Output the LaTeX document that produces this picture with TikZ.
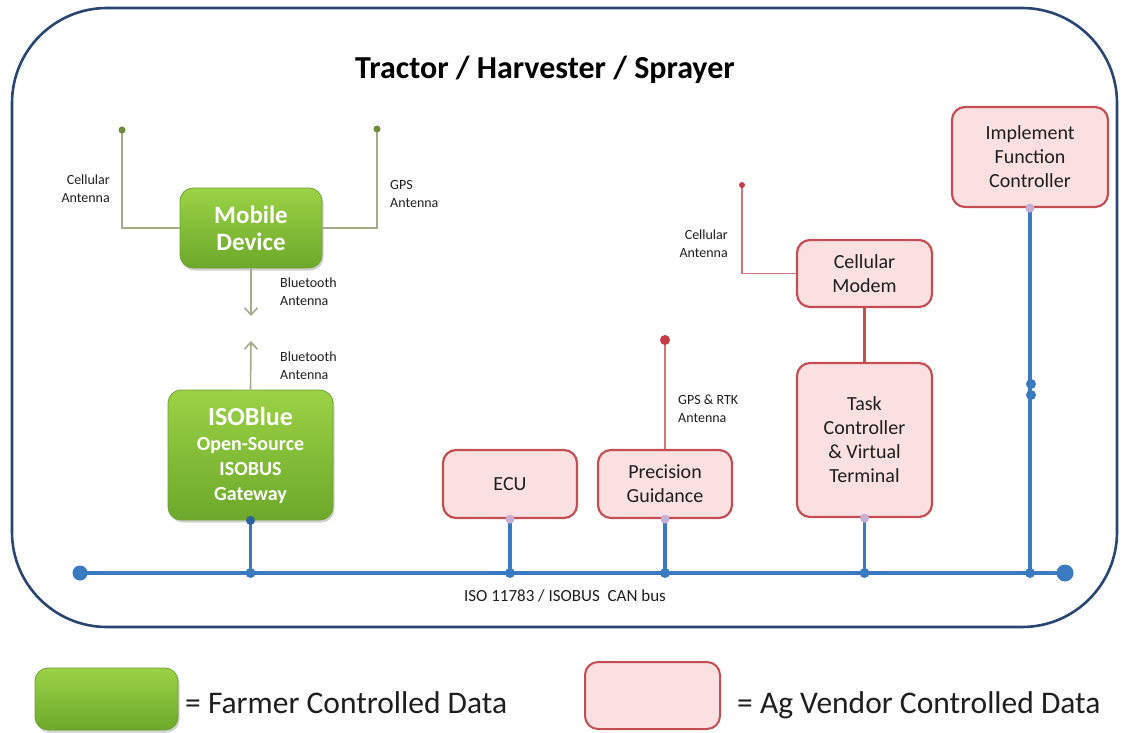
\documentclass[tikz,border=0pt]{standalone}
\usepackage{fontspec}
\setmainfont{Carlito}
\usetikzlibrary{arrows.meta,shadows}
\newcommand\fsz[2]{\fontsize{#1}{#2}\selectfont}
\definecolor{frame}{RGB}{40,70,112}
\definecolor{bus}{RGB}{58,122,192}
\definecolor{gtop}{RGB}{155,210,70}
\definecolor{gbot}{RGB}{108,168,42}
\definecolor{gedge}{RGB}{112,162,52}
\definecolor{pfill}{RGB}{250,224,224}
\definecolor{pedge}{RGB}{196,78,84}
\definecolor{ant}{RGB}{165,172,135}
\definecolor{antdot}{RGB}{108,140,58}
\definecolor{rant}{RGB}{208,120,124}
\definecolor{rdot}{RGB}{200,60,70}
\definecolor{txt}{RGB}{30,30,30}
\definecolor{lav}{RGB}{200,175,210}
\tikzset{
  greenbox/.style={rounded corners=13pt, top color=gtop, bottom color=gbot, draw=gedge,
    line width=0.8pt, text=white, align=center, inner sep=0pt,
    drop shadow={opacity=0.3, shadow xshift=1.5pt, shadow yshift=-2.5pt, fill=black!60}},
  pinkbox/.style={rounded corners=13pt, fill=pfill, draw=pedge, line width=2.2pt,
    text=txt, align=center, inner sep=0pt, font=\fsz{20}{24}},
  smalllabel/.style={font=\fsz{14}{18}, text=txt, inner sep=0pt},
  antline/.style={draw=ant, line width=1.6pt},
  rline/.style={draw=rant, line width=1.6pt},
  busline/.style={draw=bus, line width=4pt},
  legendtext/.style={font=\fsz{31.5}{36}, text=txt, inner sep=0pt, anchor=base west}
}
\begin{document}
\begin{tikzpicture}[x=1pt,y=-1pt]
\useasboundingbox (0,0) rectangle (1125,733);
% frame
\draw[draw=frame, line width=2.6pt, rounded corners=95pt] (12,8) rectangle (1117,627);
\node[font=\bfseries\fsz{32}{36}, anchor=base, inner sep=0pt] (title) at (545,79) {Tractor / Harvester / Sprayer};

% coordinates
\coordinate (cellA) at (122,130);
\coordinate (gpsA) at (377,129);
\coordinate (btdown) at (251,316);
\coordinate (btup) at (251,341);
\coordinate (rtk) at (665,340);
\coordinate (cellB) at (742,185);
\coordinate (busL) at (80,573);
\coordinate (busR) at (1065,573);
\coordinate (dd1) at (1031,384);
\coordinate (dd2) at (1031,395);

% green boxes
\node[greenbox, minimum width=142pt, minimum height=80pt, font=\bfseries\fsz{25}{27}] (mobile) at (251,228) {Mobile\\Device};
\node[greenbox, minimum width=165pt, minimum height=130pt, font=\bfseries\fsz{20}{25}] (iso) at (250.5,455) {{\fsz{26}{25}ISOBlue}\\Open-Source\\ISOBUS\\Gateway};

% pink boxes
\node[pinkbox, minimum width=134pt, minimum height=68pt] (ecu) at (510,484) {ECU};
\node[pinkbox, minimum width=134pt, minimum height=68pt] (pg) at (665,484) {Precision\\Guidance};
\node[pinkbox, minimum width=135pt, minimum height=67pt] (modem) at (864.5,273.5) {Cellular\\Modem};
\node[pinkbox, minimum width=135pt, minimum height=154pt] (task) at (864.5,440) {Task\\Controller\\\&~Virtual\\Terminal};
\node[pinkbox, minimum width=156pt, minimum height=100pt] (ifc) at (1030,157) {Implement\\Function\\Controller};

% mobile antennas
\draw[antline] (mobile.west) -| (cellA);
\draw[antline] (mobile.east) -| (gpsA);
\fill[antdot] (cellA) circle (3.5);
\fill[antdot] (gpsA) circle (3.5);
\node[smalllabel, align=right, anchor=east] (lcell) at (110,189) {Cellular\\Antenna};
\node[smalllabel, align=left, anchor=west] (lgps) at (390,194) {GPS\\Antenna};

% bluetooth
\draw[antline, -{Straight Barb[length=7pt,width=13pt,line width=1.6pt]}] (mobile.south) -- (btdown);
\draw[antline, -{Straight Barb[length=7pt,width=13pt,line width=1.6pt]}] (iso.north) -- (btup);
\node[smalllabel, align=left, anchor=west] (lbt1) at (280,291.5) {Bluetooth\\Antenna};
\node[smalllabel, align=left, anchor=west] (lbt2) at (280,366) {Bluetooth\\Antenna};

% red antennas
\draw[rline] (pg.north) -- (rtk);
\fill[rdot] (rtk) circle (5);
\node[smalllabel, align=left, anchor=west] (lrtk) at (678,409) {GPS \& RTK\\Antenna};
\draw[rline] (modem.west) -| (cellB);
\fill[rdot] (cellB) circle (3);
\node[smalllabel, align=right, anchor=east] (lcell2) at (728,244) {Cellular\\Antenna};
\draw[draw=pedge, line width=3pt] (modem.south) -- (task.north);

% bus
\draw[busline] (busL) -- (busR);
\fill[bus] (busL) circle (7.5);
\fill[bus] (busR) circle (8.5);
\foreach \n in {ecu,pg,task,ifc}{
  \draw[busline, line width=3.8pt] (\n.south) -- (\n.south |- busL);
  \fill[lav] (\n.south) circle (4.5);
  \fill[bus] (\n.south |- busL) circle (5);
}
\draw[busline, line width=3.8pt] (iso.south) -- (iso.south |- busL);
\fill[bus!80!black] (iso.south) circle (4.5);
\fill[bus] (iso.south |- busL) circle (5);
\fill[bus] (dd1) circle (5);
\fill[bus] (dd2) circle (5);
\node[font=\fsz{17}{20}, text=txt, anchor=base, inner sep=0pt] (buslabel) at (565,601) {ISO 11783 / ISOBUS\ \ CAN bus};

% legend
\node[greenbox, minimum width=143pt, minimum height=62pt] (lgreen) at (106.5,699) {};
\node[legendtext] (lgt) at (185,713) {= Farmer Controlled Data};
\node[pinkbox, minimum width=135pt, minimum height=67pt, line width=2pt] (lpink) at (652.5,695.5) {};
\node[legendtext] (lpt) at (737,713) {= Ag Vendor Controlled Data};
\end{tikzpicture}
\end{document}
